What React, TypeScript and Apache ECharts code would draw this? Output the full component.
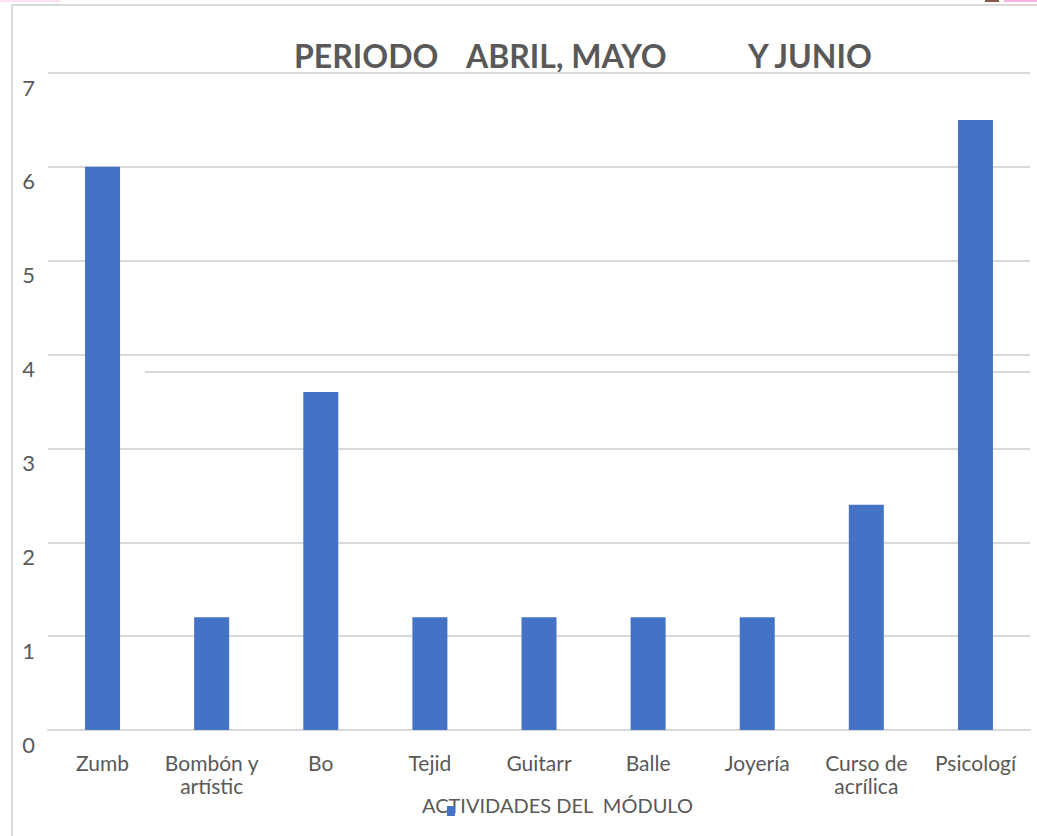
import React, { useEffect, useRef } from "react";
import * as echarts from "echarts";

const categories = [
  "Zumb",
  "Bombón y\nartístic",
  "Bo",
  "Tejid",
  "Guitarr",
  "Balle",
  "Joyería",
  "Curso de\nacrílica",
  "Psicologí",
];
const values = [6, 1.2, 3.6, 1.2, 1.2, 1.2, 1.2, 2.4, 6.5];
const yTicks = [0, 1, 2, 3, 4, 5, 6, 7];
const titleParts = ["PERIODO", "ABRIL, MAYO", "Y JUNIO"];
const axisTitle = "ACTIVIDADES DEL  MÓDULO";

const FONT = "Lato, 'Open Sans', sans-serif";
const GREY = "#595959";
const LINE = "#d9d9d9";

export default function App() {
  const ref = useRef<HTMLDivElement>(null);
  useEffect(() => {
    if (!ref.current) return;
    const chart = echarts.init(ref.current, null, { renderer: "svg" });
    chart.setOption({
      animation: false,
      backgroundColor: "#ffffff",
      textStyle: { fontFamily: FONT },
      grid: { left: 48, right: 7, top: 73, bottom: 106, containLabel: false },
      legend: {
        show: true,
        left: 447,
        top: 806,
        padding: 0,
        itemWidth: 8,
        itemHeight: 10,
        itemGap: 0,
        icon: "rect",
        textStyle: { fontSize: 1, color: "rgba(0,0,0,0)" },
        data: [" "],
      },
      xAxis: {
        type: "category",
        data: categories,
        axisLine: { show: true, lineStyle: { color: LINE, width: 2 } },
        axisTick: { show: false },
        axisLabel: {
          interval: 0,
          color: GREY,
          fontSize: 21,
          lineHeight: 23,
          margin: 21,
          fontFamily: FONT,
        },
      },
      yAxis: {
        type: "value",
        min: 0,
        max: 7,
        interval: 1,
        axisLine: { show: false },
        axisTick: { show: false },
        splitLine: { lineStyle: { color: LINE, width: 2 } },
        axisLabel: {
          color: GREY,
          fontSize: 22,
          margin: 13,
          verticalAlign: "top",
          lineHeight: 28,
          fontFamily: FONT,
          formatter: (v: number) => (yTicks.includes(v) ? String(v) : ""),
        },
      },
      series: [
        {
          name: " ",
          type: "bar",
          data: values,
          barWidth: 35,
          itemStyle: { color: "#4472C4" },
        },
      ],
      graphic: [
        {
          type: "line",
          shape: { x1: 12, y1: 5, x2: 12, y2: 836 },
          style: { stroke: LINE, lineWidth: 2 },
        },
        {
          type: "line",
          shape: { x1: 12, y1: 5, x2: 1037, y2: 5 },
          style: { stroke: LINE, lineWidth: 2 },
        },
        {
          type: "line",
          shape: { x1: 145, y1: 372, x2: 1030, y2: 372 },
          style: { stroke: LINE, lineWidth: 2 },
        },
        {
          type: "rect",
          shape: { x: 985, y: 0, width: 14, height: 2 },
          style: { fill: "#8a5a4a" },
        },
        {
          type: "rect",
          shape: { x: 1004, y: 0, width: 33, height: 2 },
          style: { fill: "#f4b6e0" },
        },
        {
          type: "rect",
          shape: { x: 0, y: 0, width: 60, height: 2 },
          style: { fill: "#f9e3f3" },
        },
        {
          type: "text",
          left: 294,
          top: 39,
          style: { text: titleParts[0], fill: GREY, font: `bold 32px ${FONT}` },
        },
        {
          type: "text",
          left: 466,
          top: 39,
          style: { text: titleParts[1], fill: GREY, font: `bold 32px ${FONT}` },
        },
        {
          type: "text",
          left: 748,
          top: 39,
          style: { text: titleParts[2], fill: GREY, font: `bold 32px ${FONT}` },
        },
        {
          type: "text",
          left: 422,
          top: 795,
          style: { text: axisTitle, fill: GREY, font: `20px ${FONT}` },
        },
      ],
    });
    return () => chart.dispose();
  }, []);
  return (
    <div
      ref={ref}
      style={{ position: "fixed", left: 0, top: 0, width: 1037, height: 836 }}
    />
  );
}
